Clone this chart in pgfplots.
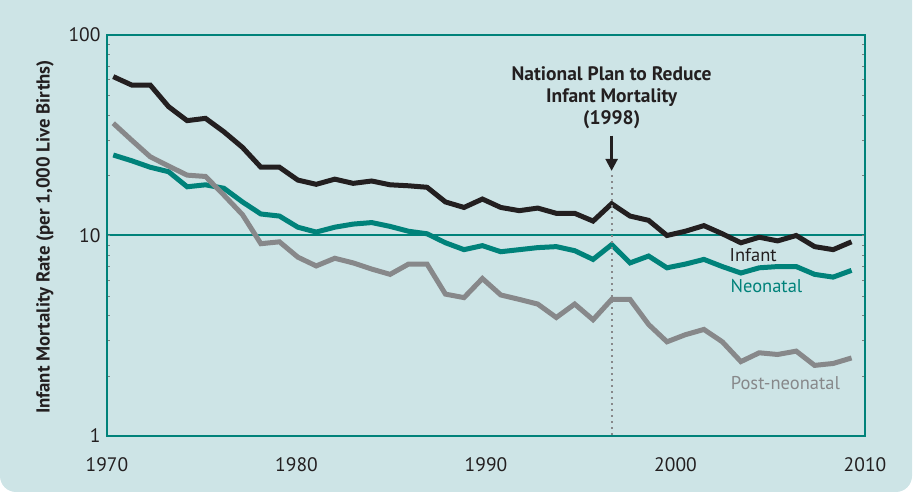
\documentclass[border=0pt]{standalone}
\usepackage{fontspec}
\setmainfont{PT Sans}
\usepackage{pgfplots}
\pgfplotsset{compat=1.18}
\usepackage{pgfplotstable}
\usetikzlibrary{arrows.meta}
\definecolor{bgc}{HTML}{CDE4E6}
\definecolor{tealc}{HTML}{00827A}
\definecolor{infc}{HTML}{231F20}
\definecolor{postc}{HTML}{87888A}

\pgfplotstableread{
x inf neo post
1970.33 62.0 25.2 36.3
1971.30 56.3 23.6 29.9
1972.28 56.3 21.9 24.7
1973.25 43.9 20.8 22.2
1974.23 37.4 17.5 20.0
1975.20 38.4 17.9 19.7
1976.17 32.9 17.2 15.9
1977.15 27.5 14.7 12.7
1978.12 21.9 12.8 9.1
1979.10 21.9 12.5 9.3
1980.07 18.9 11.0 7.8
1981.04 18.0 10.4 7.05
1982.02 19.1 11.0 7.7
1982.99 18.2 11.4 7.3
1983.97 18.7 11.6 6.8
1984.94 17.9 11.1 6.4
1985.91 17.7 10.5 7.2
1986.89 17.4 10.2 7.2
1987.86 14.7 9.2 5.1
1988.84 13.8 8.5 4.9
1989.81 15.2 8.9 6.1
1990.78 13.8 8.3 5.05
1991.76 13.3 8.5 4.8
1992.73 13.7 8.7 4.55
1993.71 12.9 8.8 3.9
1994.68 12.9 8.4 4.55
1995.65 11.8 7.6 3.8
1996.63 14.4 9.0 4.8
1997.60 12.5 7.3 4.8
1998.58 11.9 7.9 3.6
1999.55 10.0 6.9 2.95
2000.52 10.5 7.2 3.2
2001.50 11.2 7.6 3.4
2002.47 10.2 7.0 2.95
2003.45 9.2 6.5 2.35
2004.42 9.8 6.9 2.6
2005.39 9.4 7.0 2.55
2006.37 10.0 7.0 2.65
2007.34 8.8 6.4 2.25
2008.32 8.5 6.2 2.3
2009.29 9.3 6.7 2.45
}\data

\begin{document}
\begin{tikzpicture}[x=1pt,y=1pt]
\useasboundingbox (0,0) rectangle (914,497);
\begin{scope}
\clip (0,0) rectangle (914,497);
\fill[bgc, rounded corners=16pt] (0,5) rectangle (912,530);
\end{scope}
\node[rotate=90, font=\fontsize{18.8}{22}\selectfont\bfseries, text=infc] at (45,260) {Infant Mortality Rate (per 1,000 Live Births)};
\begin{axis}[
  at={(107pt,61pt)}, anchor=south west,
  width=758pt, height=401pt, scale only axis,
  ymode=log, ymin=1, ymax=100,
  xmin=1970, xmax=2010,
  xtick={1970,1980,1990,2000,2010},
  xticklabels={1970,1980,1990,2000,2010},
  ytick={1,10,100},
  yticklabels={1,10,100},
  major tick length=0pt, minor tick num=0,
  axis line style={tealc, line width=2.2pt},
  ymajorgrids=true,
  major grid style={tealc, line width=2pt},
  ticklabel style={font=\fontsize{19.5}{22}\selectfont, text=infc},
  xticklabel style={yshift=-18pt},
  yticklabel style={xshift=-3pt},
  /pgf/number format/assume math mode=true,
  clip=false,
]
\addplot[tealc, line width=5pt] table[x=x, y=neo] {\data};
\addplot[postc, line width=5pt] table[x=x, y=post] {\data};
\addplot[infc, line width=5pt] table[x=x, y=inf] {\data};
\draw[postc, line width=2pt, dash pattern=on 2pt off 4pt] (axis cs:1996.63,20.0) -- (axis cs:1996.63,1);
\draw[infc, line width=2.5pt, -{Triangle[length=12pt,width=12pt]}] (axis cs:1996.63,31.5) -- (axis cs:1996.63,21.0);
\node[anchor=south, align=center, font=\fontsize{19.5}{22}\selectfont\bfseries, text=infc, inner sep=0pt] at (axis cs:1996.63,34.0) {National Plan to Reduce\\Infant Mortality\\(1998)};
\node[font=\fontsize{18.5}{20}\selectfont, text=infc] at (axis cs:2004.1,8.0) {Infant};
\node[font=\fontsize{18.5}{20}\selectfont, text=tealc] at (axis cs:2004.8,5.6) {Neonatal};
\node[font=\fontsize{18.5}{20}\selectfont, text=postc] at (axis cs:2005.8,1.84) {Post-neonatal};
\end{axis}
\end{tikzpicture}
\end{document}
